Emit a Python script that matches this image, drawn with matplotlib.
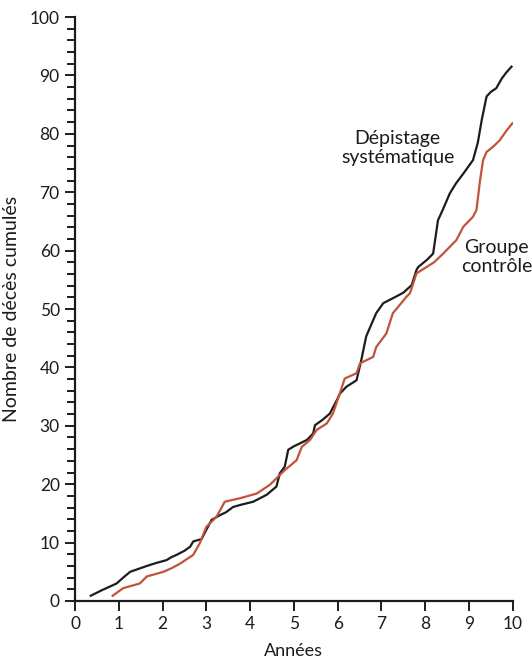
import matplotlib.pyplot as plt
from matplotlib.ticker import MultipleLocator

# Dépistage systématique (black curve)
screen_x = [0.36, 0.6, 0.95, 1.1, 1.26, 1.45, 1.64, 1.85, 2.09, 2.2, 2.32, 2.5, 2.63, 2.7, 2.89,
            3.0, 3.12, 3.31, 3.45, 3.61, 3.8, 4.07, 4.2, 4.38, 4.6, 4.68, 4.79, 4.87, 5.0, 5.14,
            5.3, 5.44, 5.48, 5.65, 5.82, 5.98, 6.05, 6.2, 6.43, 6.54, 6.65, 6.81, 6.88, 7.04,
            7.3, 7.5, 7.69, 7.8, 7.84, 8.05, 8.18, 8.29, 8.4, 8.56, 8.7, 8.87, 9.09, 9.2, 9.29,
            9.4, 9.5, 9.62, 9.75, 9.85, 9.97]
screen_y = [0.9, 1.8, 3.0, 4.0, 5.0, 5.5, 6.0, 6.5, 7.0, 7.5, 7.9, 8.6, 9.3, 10.2, 10.6,
            12.2, 13.9, 14.7, 15.2, 16.1, 16.5, 17.0, 17.5, 18.2, 19.6, 21.9, 23.0, 25.9, 26.5, 27.0,
            27.6, 28.7, 30.1, 31.0, 32.1, 34.4, 35.5, 36.7, 37.8, 41.3, 45.3, 48.1, 49.3, 51.0,
            52.0, 52.8, 54.1, 56.7, 57.2, 58.5, 59.5, 65.2, 67.0, 69.8, 71.5, 73.2, 75.5, 78.5, 82.4,
            86.4, 87.2, 87.8, 89.5, 90.5, 91.5]

# Groupe contrôle (red curve)
ctrl_x = [0.86, 1.1, 1.48, 1.64, 2.02, 2.2, 2.4, 2.7, 2.85, 3.0, 3.23, 3.42, 3.77, 4.15, 4.45,
          4.79, 5.06, 5.18, 5.37, 5.52, 5.75, 5.89, 6.05, 6.16, 6.43, 6.51, 6.81, 6.88, 7.11,
          7.26, 7.34, 7.57, 7.65, 7.8, 8.03, 8.2, 8.41, 8.71, 8.87, 9.09, 9.17, 9.25, 9.32,
          9.4, 9.55, 9.7, 9.85, 9.99]
ctrl_y = [0.9, 2.2, 3.0, 4.2, 5.0, 5.6, 6.4, 7.9, 9.9, 12.7, 14.4, 17.0, 17.6, 18.4, 19.9,
          22.4, 24.1, 26.4, 27.6, 29.3, 30.4, 32.1, 35.6, 38.1, 39.0, 40.7, 41.8, 43.5, 45.8,
          49.3, 50.0, 52.1, 52.7, 56.1, 57.2, 58.0, 59.5, 61.8, 64.1, 65.8, 67.0, 72.0, 75.5,
          76.9, 77.8, 78.9, 80.5, 81.8]

x_ticks = list(range(0, 11))
y_ticks = list(range(0, 101, 10))

plt.rcParams['font.family'] = ['Lato', 'DejaVu Sans']

fig = plt.figure(figsize=(5.32, 6.6), dpi=100)
ax = fig.add_axes([0.141, 0.0894, 0.823, 0.8848])

ax.plot(screen_x, screen_y, color='#1c1c1c', lw=1.6)
ax.plot(ctrl_x, ctrl_y, color='#c0533a', lw=1.6)

ax.set_xlim(0, 10)
ax.set_ylim(0, 100)
ax.set_xticks(x_ticks)
ax.set_yticks(y_ticks)
ax.yaxis.set_minor_locator(MultipleLocator(2))
for s in ['top', 'right']:
    ax.spines[s].set_visible(False)
for s in ['left', 'bottom']:
    ax.spines[s].set_linewidth(1.6)
    ax.spines[s].set_color('#1c1c1c')
ax.tick_params(axis='both', which='major', direction='out', length=7, width=1.4,
               labelsize=12.5, colors='#1c1c1c', pad=4)
ax.tick_params(axis='y', which='minor', direction='out', length=6, width=1.4, colors='#1c1c1c')

ax.set_xlabel('Années', fontsize=13, color='#1c1c1c', labelpad=8)
ax.set_ylabel('Nombre de décès cumulés', fontsize=14, color='#1c1c1c', labelpad=7)

ax.text(7.37, 77.6, 'Dépistage\nsystématique', ha='center', va='center',
        fontsize=14, color='#1c1c1c', linespacing=1.15)
ax.text(9.63, 58.9, 'Groupe\ncontrôle', ha='center', va='center',
        fontsize=14, color='#1c1c1c', linespacing=1.15)

fig.savefig('out.png', dpi=100)
